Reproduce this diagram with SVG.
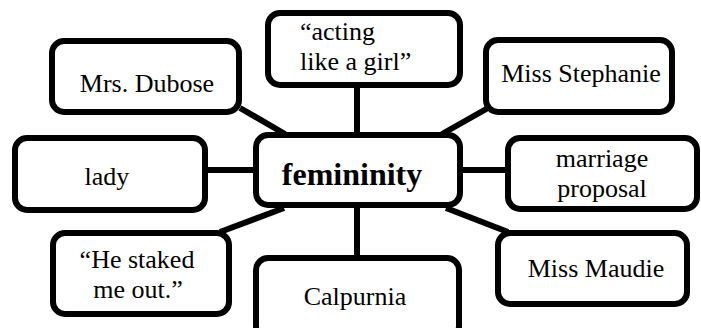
<svg xmlns="http://www.w3.org/2000/svg" width="701" height="328" viewBox="0 0 701 328">
<style>
.box{fill:#fff;stroke:#000;stroke-width:6;}
.c line{stroke:#000;stroke-width:6;}
</style>
<rect width="701" height="328" fill="#fff"/>
<g class="c" id="connectors">
<line x1="240" y1="108" x2="285" y2="134"/>
<line x1="357" y1="86" x2="357" y2="134"/>
<line x1="488" y1="108" x2="442" y2="134"/>
<line x1="206" y1="170" x2="255" y2="170"/>
<line x1="460" y1="170" x2="506" y2="170"/>
<line x1="220" y1="232" x2="284" y2="208"/>
<line x1="357" y1="206" x2="357" y2="257"/>
<line x1="446" y1="208" x2="508" y2="232"/>
</g>
<g font-family="Liberation Serif, DejaVu Serif, serif" font-size="26" fill="#000" text-anchor="middle">
<g id="n-dubose"><rect class="box" x="52" y="41" width="187" height="71" rx="12"/><text x="147" y="92">Mrs. Dubose</text></g>
<g id="n-acting"><rect class="box" x="268" y="13" width="192" height="72" rx="12"/><text text-anchor="start" x="300" y="40">“acting</text><text text-anchor="start" x="300" y="70">like a girl”</text></g>
<g id="n-stephanie"><rect class="box" x="486" y="40" width="186" height="72" rx="12"/><text x="581" y="82">Miss Stephanie</text></g>
<g id="n-lady"><rect class="box" x="15" y="138" width="190" height="72" rx="12"/><text x="107" y="185">lady</text></g>
<g id="n-femininity"><rect class="box" x="256" y="135" width="204" height="70" rx="12"/><text font-weight="bold" font-size="32" x="352" y="185">femininity</text></g>
<g id="n-marriage"><rect class="box" x="508" y="138" width="189" height="71" rx="12"/><text x="602" y="167">marriage</text><text x="602" y="197">proposal</text></g>
<g id="n-staked"><rect class="box" x="53" y="233" width="176" height="81" rx="12"/><text x="137" y="268">“He staked</text><text x="138" y="298">me out.”</text></g>
<g id="n-calpurnia"><rect class="box" x="256" y="258" width="203" height="80" rx="12"/><text x="355" y="305">Calpurnia</text></g>
<g id="n-maudie"><rect class="box" x="498" y="233" width="189" height="71" rx="12"/><text x="596" y="277">Miss Maudie</text></g>
</g>
</svg>
